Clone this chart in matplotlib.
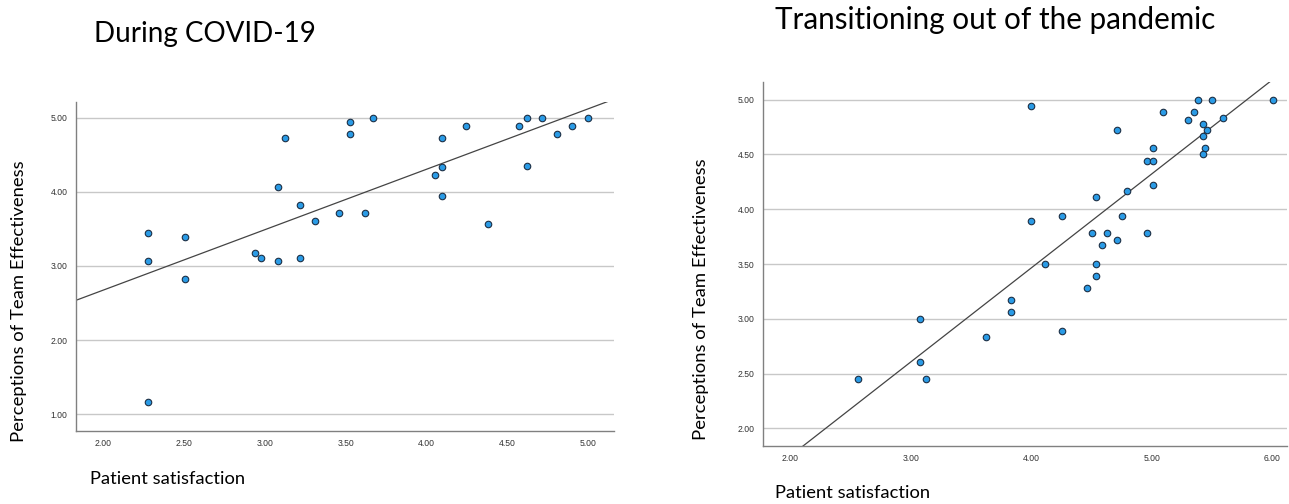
import numpy as np
import matplotlib
matplotlib.use("Agg")
import matplotlib.pyplot as plt

# During COVID-19
covid_x = [2.28, 2.28, 2.28, 2.51, 2.51, 2.94, 2.98, 3.08, 3.22, 3.08,
           3.125, 3.22, 3.31, 3.46, 3.525, 3.53, 3.62, 3.67, 4.095, 4.095,
           4.05, 4.095, 4.247, 4.383, 4.572, 4.62, 4.62, 4.714, 4.81, 4.903,
           5.0]
covid_y = [3.44, 3.06, 1.17, 3.39, 2.83, 3.17, 3.11, 3.06, 3.11, 4.06,
           4.72, 3.82, 3.61, 3.72, 4.78, 4.94, 3.72, 5.0, 4.72, 4.33,
           4.22, 3.94, 4.89, 3.56, 4.89, 5.0, 4.35, 5.0, 4.78, 4.89,
           5.0]

# Transitioning out of the pandemic
trans_x = [2.56, 3.08, 3.08, 3.125, 3.62, 3.83, 3.83, 4.0, 4.0, 4.11,
           4.25, 4.25, 4.46, 4.50, 4.54, 4.54, 4.54, 4.585, 4.63, 4.71,
           4.71, 4.75, 4.79, 4.96, 5.005, 5.005, 5.005, 4.96, 5.09, 5.30,
           5.35, 5.38, 5.50, 5.42, 5.46, 5.42, 5.44, 5.42, 5.59, 6.0]
trans_y = [2.45, 3.0, 2.61, 2.45, 2.83, 3.17, 3.06, 4.94, 3.89, 3.50,
           3.94, 2.89, 3.28, 3.78, 4.11, 3.50, 3.39, 3.67, 3.78, 4.72,
           3.72, 3.94, 4.17, 4.44, 4.44, 4.56, 4.22, 3.78, 4.89, 4.81,
           4.89, 5.0, 5.0, 4.78, 4.72, 4.67, 4.56, 4.50, 4.83, 5.0]

covid_xticks = [2.0, 2.5, 3.0, 3.5, 4.0, 4.5, 5.0]
covid_yticks = [1.0, 2.0, 3.0, 4.0, 5.0]
trans_xticks = [2.0, 3.0, 4.0, 5.0, 6.0]
trans_yticks = [2.0, 2.5, 3.0, 3.5, 4.0, 4.5, 5.0]

W, H = 1289, 504
fig = plt.figure(figsize=(W / 100, H / 100), dpi=100)

title_font = "Lato"
tick_font = "Liberation Sans"


def px_axes(left, top, right, bottom):
    return fig.add_axes([left / W, 1 - bottom / H, (right - left) / W, (bottom - top) / H])


def draw_panel(ax, xs, ys, xlim, ylim, xticks, yticks):
    ax.set_xlim(*xlim)
    ax.set_ylim(*ylim)
    ax.set_xticks(xticks)
    ax.set_yticks(yticks)
    ax.set_xticklabels([f"{t:.2f}" for t in xticks], fontsize=6.2, family=tick_font, color="#333333")
    ax.set_yticklabels([f"{t:.2f}" for t in yticks], fontsize=6.2, family=tick_font, color="#333333")
    ax.tick_params(length=0, pad=6)
    for s in ["top", "right"]:
        ax.spines[s].set_visible(False)
    for s in ["left", "bottom"]:
        ax.spines[s].set_color("#808080")
        ax.spines[s].set_linewidth(1.0)
    ax.grid(axis="y", color="#c8c8c8", linewidth=1.0)
    ax.set_axisbelow(True)

    # least squares fit line over the full x range
    slope, icpt = np.polyfit(xs, ys, 1)
    lx = np.array(xlim)
    ax.plot(lx, icpt + slope * lx, color="#444444", linewidth=0.9, zorder=2)

    ax.scatter(xs, ys, s=22, facecolor="#2a9be6", edgecolor="#1c2f45",
               linewidth=0.8, zorder=3)


ax1 = px_axes(76, 102, 614, 431)
draw_panel(ax1, covid_x, covid_y, (1.833, 5.16), (0.775, 5.21), covid_xticks, covid_yticks)

ax2 = px_axes(763, 82, 1287, 446)
draw_panel(ax2, trans_x, trans_y, (1.774, 6.12), (1.84, 5.16), trans_xticks, trans_yticks)

fig.text(94 / W, 1 - 34 / H, "During COVID-19", fontsize=20, family=title_font,
         ha="left", va="center")
fig.text(775 / W, 1 - 20 / H, "Transitioning out of the pandemic", fontsize=21.3,
         family=title_font, ha="left", va="center")

fig.text(19 / W, 1 - 301 / H, "Perceptions of Team Effectiveness", fontsize=13.3,
         family=title_font, rotation=90, ha="center", va="center")
fig.text(701 / W, 1 - 299 / H, "Perceptions of Team Effectiveness", fontsize=13.3,
         family=title_font, rotation=90, ha="center", va="center")

fig.text(90 / W, 1 - 479 / H, "Patient satisfaction", fontsize=13.2,
         family=title_font, ha="left", va="center")
fig.text(775 / W, 1 - 493 / H, "Patient satisfaction", fontsize=13.2,
         family=title_font, ha="left", va="center")

fig.savefig("out.png", dpi=100)
